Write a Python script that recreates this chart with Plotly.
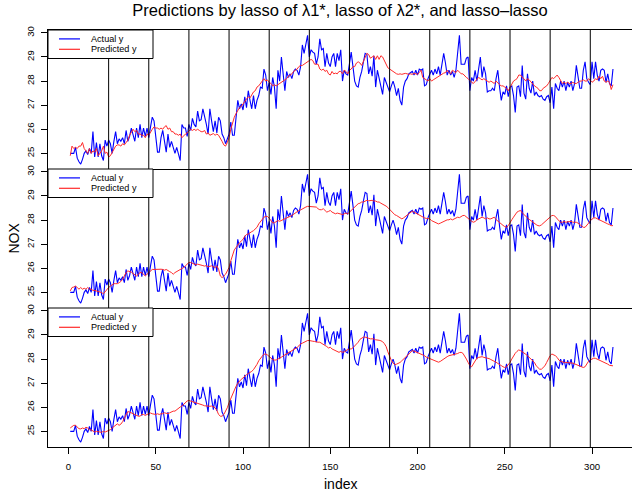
import plotly.graph_objects as go

# Observed NOX series and the three fitted predictions (index 1..312)
actual_y = [
    25.0, 25.0, 25.0, 25.25, 24.8, 24.65, 24.55, 24.75, 25.0, 25.1,
    24.95, 25.2, 25.0, 25.9, 24.85, 25.45, 24.85, 25.4, 24.9, 24.7,
    25.55, 25.3, 25.55, 25.4, 25.0, 25.5, 25.9, 25.4, 25.6, 25.5,
    25.65, 25.4, 25.95, 25.5, 25.7, 26.05, 25.7, 25.5, 26.05, 25.65,
    26.2, 25.65, 26.05, 25.7, 26.05, 25.65, 26.1, 26.5, 26.35, 25.8,
    25.05, 25.05, 25.65, 25.95, 25.5, 25.05, 25.8, 25.25, 25.5, 25.2,
    25.0, 25.25, 24.9, 24.7, 26.2, 26.05, 26.05, 25.7, 26.2, 25.95,
    26.45, 26.2, 26.1, 26.75, 26.35, 26.4, 26.85, 26.55, 26.2, 25.8,
    26.85, 26.35, 25.9, 26.35, 25.85, 26.5, 26.35, 25.8, 25.65, 25.4,
    25.6, 25.8, 26.3, 25.75, 25.75, 26.35, 27.2, 26.85, 27.05, 26.8,
    27.35, 26.9, 27.6, 27.2, 26.85, 27.4, 26.85, 27.2, 27.4, 27.75,
    27.7, 28.5, 28.25, 27.6, 27.95, 27.45, 28.15, 27.75, 26.85, 28.45,
    28.0, 29.0, 28.15, 27.6, 28.4, 28.15, 28.3, 28.1, 28.4, 28.5,
    28.45, 28.25, 28.6, 29.5, 29.15, 29.6, 29.9, 29.0, 29.3, 29.2,
    29.15, 28.7, 29.0, 29.75, 29.3, 29.35, 28.6, 29.15, 28.75, 28.6,
    29.0, 29.15, 28.6, 29.15, 28.85, 29.3, 28.0, 28.45, 28.3, 28.25,
    28.7, 29.2, 28.6, 28.0, 27.8, 27.75, 28.15, 28.4, 28.8, 29.15,
    29.1, 28.3, 28.6, 28.2, 29.05, 27.75, 28.45, 28.1, 27.7, 27.45,
    28.15, 27.95, 27.75, 27.55, 27.8, 28.0, 27.75, 27.4, 27.7, 27.2,
    27.0, 27.75, 28.0, 28.1, 28.3, 28.35, 28.4, 28.25, 28.45, 28.25,
    28.5, 28.45, 28.5, 27.8, 27.85, 28.1, 28.3, 28.45, 28.25, 28.5,
    28.3, 28.6, 28.25, 28.65, 29.15, 28.75, 28.25, 28.45, 28.25, 28.4,
    28.15, 28.45, 29.05, 29.9, 28.7, 28.7, 28.7, 28.95, 29.0, 27.6,
    28.15, 28.0, 28.45, 28.0, 28.6, 29.0, 28.15, 28.6, 28.3, 27.55,
    27.6, 27.6, 27.7, 27.6, 28.1, 28.45, 27.75, 27.2, 27.55, 27.45,
    27.8, 27.35, 27.75, 27.8, 27.4, 26.7, 27.75, 27.8, 27.35, 28.65,
    27.5, 27.25, 28.3, 27.7, 27.5, 28.0, 27.4, 27.55, 27.4, 27.35,
    27.4, 27.25, 27.2, 27.35, 27.4, 27.1, 27.75, 26.85, 27.9, 27.7,
    27.6, 28.0, 27.75, 28.0, 27.6, 27.95, 27.75, 28.0, 27.6, 27.9,
    28.65, 28.1, 27.7, 27.7, 28.45, 28.8, 28.1, 27.95, 27.85, 28.8,
    28.1, 28.8, 28.25, 28.0, 28.45, 28.5, 28.45, 27.95, 28.3, 27.9,
    27.8, 28.5,
]

pred_lasso_lambda1 = [
    24.9, 25.3, 25.2, 25.25, 25.2, 25.3, 25.3, 25.45, 25.2, 25.1,
    25.0, 25.2, 25.0, 25.1, 25.05, 25.2, 24.9, 25.0, 25.1, 25.3,
    25.0, 25.05, 24.85, 24.9, 25.05, 25.2, 25.3, 25.35, 25.35, 25.3,
    25.4, 25.35, 25.45, 25.55, 25.75, 25.9, 26.0, 25.9, 25.95, 25.8,
    25.8, 25.75, 25.75, 25.65, 25.8, 25.75, 25.9, 26.0, 26.1, 26.05,
    26.05, 26.0, 26.05, 26.0, 26.1, 26.15, 26.0, 26.05, 25.9, 25.9,
    25.8, 25.8, 25.75, 25.8, 25.65, 25.75, 25.8, 25.85, 25.95, 26.0,
    25.95, 26.0, 25.95, 26.0, 25.95, 25.9, 25.9, 25.95, 25.8, 25.85,
    25.75, 25.8, 25.82, 25.75, 25.8, 25.75, 25.65, 25.5, 25.35, 25.3,
    25.45, 25.65, 26.0, 26.3, 26.5, 26.65, 26.8, 26.9, 26.95, 27.05,
    27.15, 27.25, 27.35, 27.3, 27.45, 27.55, 27.6, 27.75, 27.8, 27.9,
    28.05, 28.1, 28.0, 28.05, 27.95, 27.9, 27.8, 27.85, 27.8, 27.85,
    27.88, 27.95, 28.0, 28.05, 28.1, 28.2, 28.25, 28.3, 28.4, 28.45,
    28.5, 28.6, 28.65, 28.65, 28.7, 28.75, 28.8, 28.85, 28.9, 28.85,
    28.7, 28.7, 28.7, 28.5, 28.45, 28.5, 28.4, 28.45, 28.3, 28.25,
    28.4, 28.3, 28.33, 28.3, 28.4, 28.4, 28.3, 28.45, 28.4, 28.3,
    28.45, 28.5, 28.6, 28.6, 28.75, 28.8, 28.75, 28.65, 28.8, 29.0,
    29.15, 29.1, 28.95, 29.0, 29.05, 28.9, 29.05, 28.9, 29.05, 29.0,
    28.85, 28.7, 28.55, 28.5, 28.45, 28.4, 28.33, 28.3, 28.28, 28.3,
    28.28, 28.3, 28.32, 28.3, 28.28, 28.3, 28.28, 28.32, 28.3, 28.28,
    28.35, 28.45, 28.15, 28.1, 28.05, 28.0, 28.1, 28.0, 28.05, 28.1,
    28.15, 28.2, 28.25, 28.3, 28.33, 28.35, 28.45, 28.35, 28.3, 28.45,
    28.4, 28.35, 28.45, 28.35, 28.3, 28.3, 28.2, 28.15, 28.1, 28.0,
    27.95, 27.9, 28.0, 28.1, 28.15, 28.1, 28.05, 28.1, 28.05, 28.0,
    27.95, 28.0, 27.95, 27.9, 28.0, 27.9, 27.85, 27.8, 27.8, 27.75,
    27.7, 27.6, 27.75, 27.85, 28.0, 28.05, 28.1, 28.25, 28.25, 28.15,
    28.1, 28.0, 28.1, 28.05, 27.95, 27.85, 27.8, 27.75, 27.7, 27.6,
    27.6, 27.7, 27.75, 27.8, 27.9, 28.0, 28.15, 28.1, 28.2, 28.25,
    28.15, 28.0, 27.9, 27.95, 27.9, 27.95, 27.9, 27.9, 27.95, 27.9,
    27.9, 27.95, 28.0, 28.0, 28.05, 28.0, 28.0, 28.1, 28.0, 27.95,
    28.0, 28.1, 28.05, 28.2, 28.1, 28.2, 28.0, 27.95, 28.0, 27.95,
    27.65, 27.85,
]

pred_lasso_lambda2 = [
    25.06, 25.2, 25.22, 25.26, 25.2, 25.13, 25.2, 25.13, 25.17, 25.13,
    25.2, 25.13, 25.13, 25.08, 25.08, 25.06, 25.03, 25.01, 24.99, 24.94,
    25.03, 25.13, 25.2, 25.26, 25.33, 25.36, 25.36, 25.36, 25.4, 25.45,
    25.54, 25.68, 25.82, 25.89, 25.87, 25.84, 25.78, 25.72, 25.68, 25.75,
    25.82, 25.82, 25.75, 25.68, 25.75, 25.82, 25.92, 25.95, 25.95, 25.96,
    25.95, 25.95, 25.96, 25.95, 25.92, 25.95, 25.89, 25.86, 25.82, 25.75,
    25.82, 25.86, 25.89, 25.96, 26.0, 26.03, 26.1, 26.17, 26.24, 26.24,
    26.2, 26.17, 26.14, 26.17, 26.14, 26.14, 26.11, 26.09, 26.11, 26.06,
    26.09, 26.1, 26.06, 26.03, 26.1, 25.96, 25.68, 25.61, 25.68, 25.75,
    25.89, 26.03, 26.31, 26.52, 26.76, 26.86, 26.98, 27.06, 27.13, 27.2,
    27.33, 27.4, 27.42, 27.49, 27.52, 27.56, 27.63, 27.7, 27.84, 27.93,
    28.05, 28.12, 28.15, 28.15, 28.08, 27.95, 27.88, 27.89, 27.95, 27.98,
    27.95, 27.98, 28.01, 28.05, 28.09, 28.12, 28.15, 28.19, 28.24, 28.3,
    28.35, 28.4, 28.42, 28.47, 28.51, 28.54, 28.57, 28.56, 28.55, 28.54,
    28.52, 28.54, 28.47, 28.43, 28.43, 28.47, 28.4, 28.33, 28.36, 28.4,
    28.33, 28.29, 28.26, 28.29, 28.26, 28.23, 28.23, 28.26, 28.29, 28.26,
    28.33, 28.4, 28.43, 28.51, 28.61, 28.68, 28.7, 28.75, 28.75, 28.79,
    28.82, 28.8, 28.82, 28.82, 28.79, 28.79, 28.75, 28.75, 28.7, 28.67,
    28.62, 28.58, 28.52, 28.44, 28.34, 28.26, 28.22, 28.19, 28.15, 28.12,
    28.05, 28.09, 28.15, 28.19, 28.26, 28.33, 28.37, 28.33, 28.29, 28.26,
    28.22, 28.15, 28.12, 28.09, 28.07, 28.06, 28.05, 27.98, 27.95, 27.91,
    27.87, 27.84, 27.87, 27.91, 27.95, 27.98, 28.01, 28.01, 28.05, 28.01,
    28.05, 28.09, 28.12, 28.1, 28.15, 28.19, 28.19, 28.12, 28.05, 27.98,
    27.95, 27.91, 27.94, 28.01, 28.05, 28.09, 28.12, 28.09, 28.05, 28.09,
    28.05, 28.05, 28.09, 28.12, 28.02, 27.95, 27.89, 27.83, 27.78, 27.73,
    27.7, 27.77, 27.91, 28.01, 28.12, 28.23, 28.33, 28.37, 28.4, 28.3,
    28.22, 28.15, 28.09, 28.03, 27.97, 27.91, 27.84, 27.81, 27.77, 27.76,
    27.8, 27.87, 27.95, 28.01, 28.09, 28.15, 28.19, 28.19, 28.15, 28.05,
    27.98, 27.91, 27.91, 27.94, 27.91, 27.91, 27.94, 27.95, 27.91, 27.91,
    27.91, 27.87, 27.81, 27.73, 27.7, 27.7, 27.77, 27.87, 27.98, 28.05,
    28.09, 28.09, 28.05, 28.01, 27.98, 27.95, 27.91, 27.87, 27.84, 27.81,
    27.77, 27.77,
]

pred_lasso_lasso = [
    25.14, 25.21, 25.25, 25.25, 25.17, 25.11, 25.1, 25.14, 25.11, 25.17,
    25.14, 25.07, 25.06, 25.0, 24.97, 25.0, 24.97, 24.97, 24.96, 25.0,
    24.97, 25.0, 25.03, 25.07, 25.14, 25.21, 25.28, 25.31, 25.25, 25.3,
    25.4, 25.55, 25.72, 25.82, 25.8, 25.76, 25.72, 25.69, 25.66, 25.63,
    25.63, 25.7, 25.7, 25.66, 25.7, 25.73, 25.76, 25.73, 25.72, 25.7,
    25.73, 25.7, 25.73, 25.73, 25.77, 25.74, 25.73, 25.77, 25.81, 25.84,
    25.84, 25.91, 25.95, 26.01, 26.05, 26.12, 26.19, 26.26, 26.28, 26.26,
    26.22, 26.19, 26.19, 26.16, 26.13, 26.12, 26.09, 26.06, 26.05, 26.02,
    26.04, 26.05, 26.02, 25.98, 25.87, 25.7, 25.63, 25.63, 25.7, 25.82,
    25.98, 26.19, 26.38, 26.51, 26.72, 26.87, 27.0, 27.1, 27.16, 27.22,
    27.3, 27.35, 27.4, 27.44, 27.49, 27.56, 27.66, 27.78, 27.93, 28.04,
    28.12, 28.2, 28.21, 28.17, 28.1, 28.02, 27.98, 27.96, 27.96, 28.0,
    28.03, 28.08, 28.13, 28.17, 28.21, 28.27, 28.32, 28.35, 28.38, 28.43,
    28.48, 28.55, 28.63, 28.66, 28.7, 28.74, 28.77, 28.77, 28.77, 28.74,
    28.73, 28.7, 28.7, 28.7, 28.66, 28.63, 28.56, 28.52, 28.46, 28.49,
    28.42, 28.38, 28.35, 28.32, 28.28, 28.32, 28.28, 28.3, 28.36, 28.4,
    28.42, 28.42, 28.47, 28.54, 28.62, 28.7, 28.82, 28.88, 28.91, 28.91,
    28.88, 28.85, 28.84, 28.84, 28.84, 28.8, 28.8, 28.78, 28.76, 28.72,
    28.64, 28.52, 28.3, 28.1, 27.94, 27.83, 27.77, 27.79, 27.82, 27.86,
    27.93, 28.0, 28.08, 28.15, 28.22, 28.29, 28.35, 28.33, 28.3, 28.28,
    28.26, 28.22, 28.18, 28.14, 28.08, 28.05, 28.04, 28.0, 27.96, 27.93,
    27.91, 27.87, 27.9, 27.96, 28.0, 28.04, 28.1, 28.14, 28.16, 28.15,
    28.17, 28.2, 28.23, 28.27, 28.28, 28.24, 28.14, 28.0, 27.86, 27.73,
    27.68, 27.79, 27.93, 28.04, 28.07, 28.1, 28.1, 28.07, 28.05, 28.06,
    28.02, 27.98, 27.95, 27.92, 27.87, 27.82, 27.79, 27.73, 27.68, 27.65,
    27.68, 27.77, 27.86, 28.0, 28.14, 28.24, 28.32, 28.38, 28.35, 28.31,
    28.27, 28.2, 28.14, 28.08, 28.0, 27.93, 27.86, 27.72, 27.65, 27.58,
    27.58, 27.65, 27.72, 27.86, 28.04, 28.14, 28.21, 28.18, 28.14, 28.07,
    27.96, 27.91, 27.87, 27.86, 27.86, 27.86, 27.86, 27.86, 27.83, 27.8,
    27.77, 27.77, 27.73, 27.68, 27.65, 27.68, 27.79, 27.91, 27.96, 28.0,
    28.04, 28.03, 28.0, 27.96, 27.93, 27.9, 27.86, 27.82, 27.79, 27.74,
    27.72, 27.72,
]

# Segment boundaries marked by vertical rules
segment_breaks = [23, 46, 69, 92, 115, 138, 161, 184, 207, 230, 253, 276, 299]

x_tick_vals = [0, 50, 100, 150, 200, 250, 300]
y_tick_vals = [25, 26, 27, 28, 29, 30]

legend_labels = ["Actual y", "Predicted y"]
panel_predictions = [pred_lasso_lambda1, pred_lasso_lambda2, pred_lasso_lasso]

BLUE = "#0000ff"
RED = "#ff2b2b"
FONT = "Liberation Sans, Arial, Helvetica, sans-serif"

W, H = 632, 497
M_L, M_R, M_T, M_B = 48, 0, 30, 50
plot_w = W - M_L - M_R
plot_h = H - M_T - M_B          # 417 px -> three 139 px panels
panel_h = plot_h / 3.0

x_range = [-11.75, 322.9]
y_range = [24.35, 30.12]

# legend geometry (pixels from the panel's top-left corner)
LEG_W, LEG_H = 105, 28.5
LEG_ROW0, LEG_ROW_GAP = 8.9, 10.4
LEG_FONT = 9.1

fig = go.Figure()
layout = dict(
    width=W, height=H,
    margin=dict(l=M_L, r=M_R, t=M_T, b=M_B, pad=0),
    plot_bgcolor="white", paper_bgcolor="white",
    showlegend=False,
    font=dict(family=FONT, color="black", size=10),
    title=dict(
        text="Predictions by lasso of \u03bb1*, lasso of \u03bb2*, and lasso\u2013lasso",
        font=dict(size=16.5, family=FONT, color="black"),
        x=0.5, xref="paper", xanchor="center",
        y=1 - 10.0 / H, yref="container", yanchor="middle",
    ),
)

shapes = []
annotations = []

for p in range(3):
    k = p + 1
    xa = "x" if k == 1 else f"x{k}"
    ya = "y" if k == 1 else f"y{k}"
    x_key = "xaxis" if k == 1 else f"xaxis{k}"
    y_key = "yaxis" if k == 1 else f"yaxis{k}"
    top = 1 - p / 3.0
    bottom = 1 - (p + 1) / 3.0
    is_bottom = (k == 3)

    idx_a = list(range(1, len(actual_y) + 1))
    pred = panel_predictions[p]
    idx_p = list(range(1, len(pred) + 1))

    fig.add_trace(go.Scatter(x=idx_a, y=actual_y, mode="lines", name=legend_labels[0],
                             line=dict(color=BLUE, width=1.1), xaxis=xa, yaxis=ya,
                             hoverinfo="skip"))
    fig.add_trace(go.Scatter(x=idx_p, y=pred, mode="lines", name=legend_labels[1],
                             line=dict(color=RED, width=1.0), xaxis=xa, yaxis=ya,
                             hoverinfo="skip"))

    # the top panel draws its own upper border; lower panels share the one above
    layout[x_key] = dict(
        domain=[0, 1], anchor=ya, range=x_range, showgrid=False, zeroline=False,
        showline=True, linecolor="black", linewidth=1, mirror=(k == 1),
        ticks="outside" if is_bottom else "", ticklen=6, tickwidth=1, tickcolor="black",
        tickvals=x_tick_vals, showticklabels=is_bottom,
        tickfont=dict(size=9.6, family=FONT), ticklabelstandoff=4,
    )
    layout[y_key] = dict(
        domain=[bottom, top], anchor=xa, range=y_range, showgrid=False, zeroline=False,
        showline=True, linecolor="black", linewidth=1, mirror=False,
        ticks="outside", ticklen=6, tickwidth=1, tickcolor="black",
        tickvals=y_tick_vals, tickangle=-90,
        tickfont=dict(size=9.6, family=FONT), ticklabelstandoff=3,
    )

    # vertical segment rules
    for b in segment_breaks:
        shapes.append(dict(type="line", xref=xa, yref=f"{ya} domain",
                           x0=b, x1=b, y0=0, y1=1,
                           line=dict(color="black", width=1)))

    # legend box in the panel's upper-left corner
    shapes.append(dict(type="rect", xref=f"{xa} domain", yref=f"{ya} domain",
                       x0=0, x1=LEG_W / plot_w, y0=1 - LEG_H / panel_h, y1=1,
                       fillcolor="white", line=dict(color="black", width=1)))
    for j, (lbl, col) in enumerate(zip(legend_labels, [BLUE, RED])):
        yy = 1 - (LEG_ROW0 + LEG_ROW_GAP * j) / panel_h
        shapes.append(dict(type="line", xref=f"{xa} domain", yref=f"{ya} domain",
                           x0=11 / plot_w, x1=32 / plot_w, y0=yy, y1=yy,
                           line=dict(color=col, width=1.2)))
        annotations.append(dict(text=lbl, xref=f"{xa} domain", yref=f"{ya} domain",
                                x=42 / plot_w, y=yy, xanchor="left", yanchor="middle",
                                borderpad=0, showarrow=False,
                                font=dict(size=LEG_FONT, family=FONT)))

annotations.append(dict(text="index", xref="paper", yref="paper",
                        x=0.5, y=-(484 - (M_T + plot_h)) / plot_h,
                        xanchor="center", yanchor="middle", showarrow=False,
                        font=dict(size=14, family=FONT)))
annotations.append(dict(text="NOX", xref="paper", yref="paper",
                        x=-(M_L - 13) / plot_w, y=0.5, textangle=-90,
                        xanchor="center", yanchor="middle", showarrow=False,
                        font=dict(size=14, family=FONT)))

layout["shapes"] = shapes
layout["annotations"] = annotations
fig.update_layout(**layout)

fig.write_html("out.html")
